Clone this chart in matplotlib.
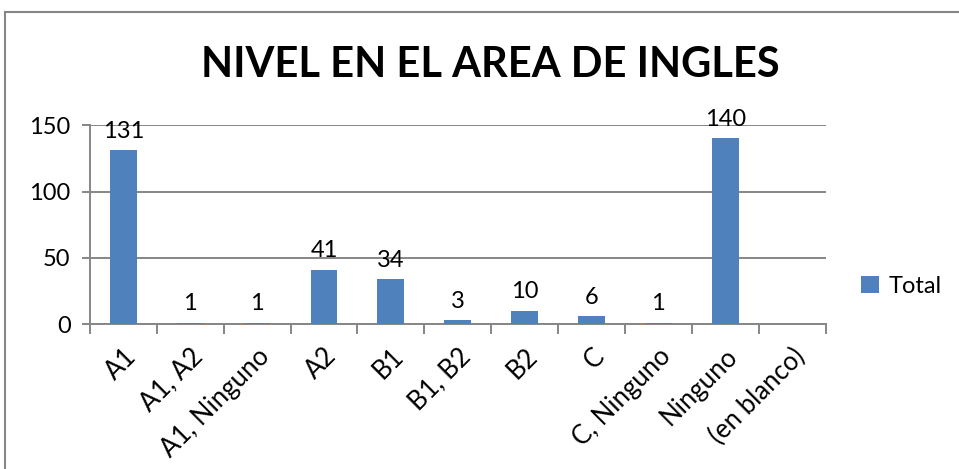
import matplotlib.pyplot as plt
from matplotlib.patches import Rectangle
import numpy as np

categorias = ['A1', 'A1, A2', 'A1, Ninguno', 'A2', 'B1', 'B1, B2', 'B2', 'C',
              'C, Ninguno', 'Ninguno', '(en blanco)']
totales = [131, 1, 1, 41, 34, 3, 10, 6, 1, 140, None]

plt.rcParams['font.family'] = ['Lato', 'DejaVu Sans']

gris = '#868686'
azul = '#4F81BD'

fig = plt.figure(figsize=(9.59, 4.69), dpi=100)
ax = fig.add_axes([0.0938, 0.309, 0.767, 0.424])

x = np.arange(len(categorias))
vals = [v if v is not None else 0 for v in totales]
bars = ax.bar(x, vals, width=0.4, color=azul, label='Total', zorder=3)

# etiquetas de datos
for xi, v in zip(x, totales):
    if v is None:
        continue
    ax.annotate(str(v), (xi, v), xytext=(0, 6), textcoords='offset points',
                ha='center', va='bottom', fontsize=17, color='black', zorder=4)

ax.set_xlim(-0.5, len(categorias) - 0.5)
ax.set_ylim(0, 150)
ax.set_yticks([0, 50, 100, 150])
ax.yaxis.grid(True, color=gris, linewidth=1.4, zorder=0)
ax.tick_params(axis='y', labelsize=17, length=6, color=gris, width=1.4, pad=8)

# marcas entre categorias
ax.set_xticks(np.arange(len(categorias) + 1) - 0.5)
ax.set_xticklabels([])
ax.tick_params(axis='x', length=7, color=gris, width=1.4)
ax.set_xticks(x, minor=True)
ax.set_xticklabels(categorias, minor=True, rotation=45, ha='right',
                   rotation_mode='anchor', fontsize=18.5)
ax.tick_params(axis='x', which='minor', length=0, pad=14)

for s in ['top', 'right']:
    ax.spines[s].set_visible(False)
for s in ['left', 'bottom']:
    ax.spines[s].set_color(gris)
    ax.spines[s].set_linewidth(1.4)

fig.text(0.511, 0.862, 'NIVEL EN EL AREA DE INGLES', ha='center', va='center',
         fontsize=30, fontweight='bold')

ax.legend(loc='center left', bbox_to_anchor=(1.02, 0.19), frameon=False,
          fontsize=17, handlelength=0.75, handleheight=0.75, handletextpad=0.4)

# borde exterior del grafico
fig.patches.append(Rectangle((5 / 959, -0.1), 1.2, 1.0 - 12 / 469 + 0.1,
                             transform=fig.transFigure, fill=False,
                             edgecolor=gris, linewidth=1.5))

fig.savefig('out.png', dpi=100)
